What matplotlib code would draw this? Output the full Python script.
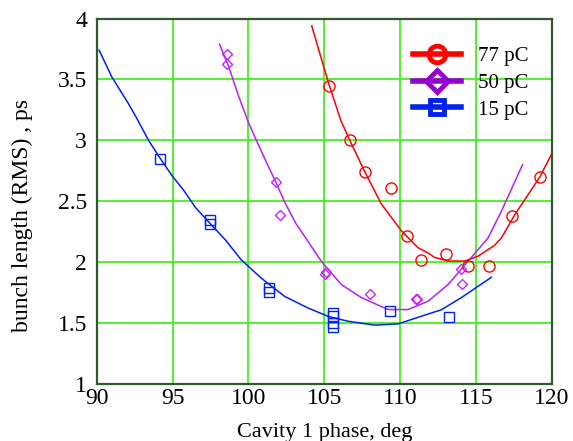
import matplotlib.pyplot as plt
from matplotlib.lines import Line2D

plt.rcParams['font.family'] = ['Liberation Serif', 'DejaVu Serif']

# measured points
x77 = [105.28, 106.69, 107.66, 109.4, 110.44, 111.4, 113.02, 114.45, 115.88, 117.4, 119.19]
y77 = [3.45, 3.0, 2.74, 2.61, 2.216, 2.016, 2.07, 1.967, 1.967, 2.38, 2.70]

x50 = [98.58, 98.58, 101.82, 102.1, 105.08, 105.03, 107.99, 111.03, 111.1, 114.01, 114.07]
y50 = [3.706, 3.624, 2.656, 2.386, 1.923, 1.90, 1.737, 1.701, 1.695, 1.943, 1.82]

x15 = [94.17, 97.47, 97.47, 101.33, 101.37, 105.56, 105.56, 105.56, 105.56, 109.36, 113.21]
y15 = [2.847, 2.35, 2.31, 1.787, 1.754, 1.586, 1.561, 1.50, 1.472, 1.60, 1.554]

# fitted curves
fx77 = [104.17, 104.78, 105.33, 106.1, 106.72, 107.64, 108.75, 110.07, 111.17, 111.84,
        112.27, 113.16, 114.25, 115.14, 116.24, 116.68, 117.56, 119.21, 120.0]
fy77 = [3.94, 3.68, 3.45, 3.16, 2.99, 2.75, 2.48, 2.26, 2.12, 2.076,
        2.04, 2.01, 2.01, 2.05, 2.14, 2.2, 2.39, 2.70, 2.89]

fx50 = [98.09, 98.71, 99.37, 100.03, 100.92, 101.8, 102.4, 103.13, 103.48, 104.8,
        106.12, 107.44, 109.2, 110.52, 111.84, 113.16, 114.48, 115.8, 116.68, 118.07]
fy50 = [3.79, 3.60, 3.355, 3.137, 2.89, 2.658, 2.49, 2.317, 2.254, 2.008,
        1.817, 1.71, 1.612, 1.612, 1.68, 1.817, 2.008, 2.2, 2.42, 2.80]

fx15 = [90.15, 90.99, 92.09, 92.64, 93.41, 94.19, 94.96, 95.73, 96.5, 97.38,
        98.5, 99.52, 100.84, 102.38, 103.92, 105.23, 106.56, 108.32, 109.86, 111.4,
        112.72, 114.04, 116.02]
fy15 = [3.74, 3.52, 3.30, 3.18, 3.0, 2.85, 2.71, 2.59, 2.45, 2.33,
        2.18, 2.02, 1.87, 1.72, 1.625, 1.557, 1.516, 1.484, 1.494, 1.557,
        1.61, 1.71, 1.877]

labels = ['77 pC', '50 pC', '15 pC']
red, purple, blue = '#ff0000', '#b422ee', '#0022ee'

fig = plt.figure(figsize=(5.73, 4.41), dpi=100)
ax = fig.add_axes([0.169, 0.129, 0.794, 0.829])

ax.plot(fx77, fy77, color=red, lw=1.1)
ax.plot(fx50, fy50, color=purple, lw=1.1)
ax.plot(fx15, fy15, color=blue, lw=1.1)
ax.plot(x77, y77, 'o', mfc='none', mec=red, ms=8, mew=1.0)
ax.plot(x50, y50, 'D', mfc='none', mec='#cc22ff', ms=5.5, mew=1.0)
ax.plot(x15, y15, 's', mfc='none', mec=blue, ms=6.5, mew=1.0)

ax.set_xlim(90, 120)
ax.set_ylim(1, 4)
ax.set_xticks(range(90, 121, 5))
ax.set_yticks([1, 1.5, 2, 2.5, 3, 3.5, 4])
ax.set_yticklabels(['1', '1.5', '2', '2.5', '3', '3.5', '4'])
ax.tick_params(length=0, labelsize=17)
ax.tick_params(axis='x', pad=3)
ax.tick_params(axis='y', pad=7)
ax.grid(True, color='#44f020', lw=1.3)
ax.set_axisbelow(True)
for s in ax.spines.values():
    s.set_color('#2e5a2e')
    s.set_linewidth(1.6)

ax.set_xlabel('Cavity 1 phase, deg', fontsize=16, labelpad=10)
ax.set_ylabel('bunch length (RMS) , ps', fontsize=17)
ax.yaxis.set_label_coords(-0.14, 0.46)

handles = [
    Line2D([], [], color=red, lw=4, marker='o', ms=12, mfc='none', mec=red, mew=3.5),
    Line2D([], [], color='#9400cc', lw=4, marker='D', ms=11, mfc='none', mec='#9400cc', mew=3.5),
    Line2D([], [], color=blue, lw=4, marker='s', ms=10, mfc='none', mec=blue, mew=3.5),
]
ax.legend(handles, labels, loc='upper right', frameon=False, fontsize=15,
          handlelength=2.3, labelspacing=0.35, bbox_to_anchor=(0.99, 0.975))

fig.savefig('out.png', dpi=100)
